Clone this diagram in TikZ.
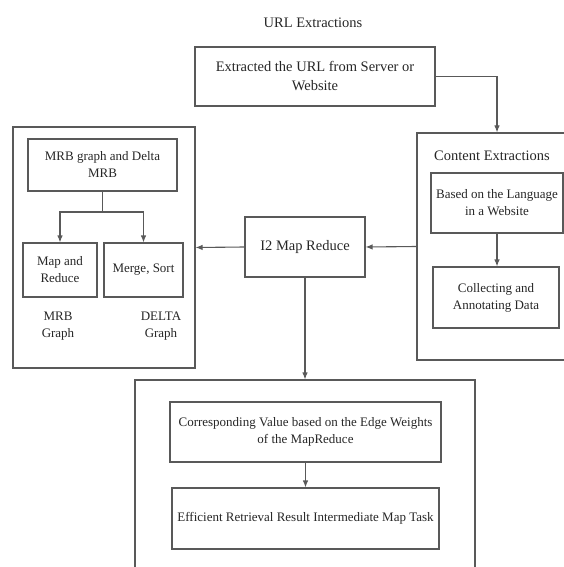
\documentclass[tikz,border=0pt]{standalone}
\usepackage{fontspec}
\setmainfont{Liberation Serif}
\usetikzlibrary{arrows.meta}
\tikzset{
  ln/.style={draw=black!65, line width=1.1pt},
  box/.style={ln, rectangle, align=center, inner sep=0pt, text=black!85},
  big/.style={font=\fontsize{14.5}{19}\selectfont},
  small/.style={font=\fontsize{13}{17}\selectfont},
  lbl/.style={align=center, inner sep=0pt, text=black!85},
  arr/.style={ln, -{Latex[length=7pt,width=5.5pt]}},
}
\begin{document}
\begin{tikzpicture}[x=1pt,y=-1pt]
\useasboundingbox (0,0) rectangle (564,567);
% title
\node[lbl, big] (title) at (313,23) {URL Extractions};
% top box
\node[box, big, minimum width=240pt, minimum height=59pt] (top) at (315,76.5) {Extracted the URL from Server or\\Website};
% left outer group
\node[box, minimum width=182pt, minimum height=241pt] (left) at (104,247.5) {};
\node[box, small, minimum width=149pt, minimum height=52pt] (mrb) at (102.5,165) {MRB graph and Delta\\MRB};
\node[box, small, minimum width=74pt, minimum height=54pt] (mapred) at (60,270) {Map and\\Reduce};
\node[box, small, minimum width=79pt, minimum height=54pt] (merge) at (143.5,270) {Merge, Sort};
\node[lbl, small] (mrbl) at (58,326) {MRB\\Graph};
\node[lbl, small] (deltal) at (161,326) {DELTA\\Graph};
\coordinate (split) at (102.5,212);
% I2
\node[box, big, minimum width=120pt, minimum height=60pt] (i2) at (305,247) {I2 Map Reduce};
% content outer group
\node[box, minimum width=163pt, minimum height=227pt] (content) at (498.5,246.5) {};
\node[lbl, big] (contentl) at (492,156) {Content Extractions};
\node[box, small, minimum width=132pt, minimum height=60pt] (based) at (497,203) {Based on the Language\\in a Website};
\node[box, small, minimum width=126pt, minimum height=61pt] (collect) at (496,297.5) {Collecting and\\Annotating Data};
% bottom outer group
\node[box, minimum width=340pt, minimum height=200pt] (bottom) at (305,480) {};
\node[box, small, minimum width=271pt, minimum height=60pt] (corr) at (305.5,432) {Corresponding Value based on the Edge Weights\\of the MapReduce};
\node[box, small, minimum width=267pt, minimum height=61pt] (eff) at (305.5,518.5) {Efficient Retrieval Result Intermediate Map Task};
% connectors
\draw[arr] (top.east) -| (content.north -| based.north);
\draw[arr] (content.west) -- (i2.east);
\draw[arr] (i2.west) -- (left.east);
\draw[arr] (i2.south) -- (bottom.north);
\draw[ln] (mrb.south) -- (split);
\draw[arr] (split) -| (mapred.north);
\draw[arr] (split) -| (merge.north);
\draw[arr] (based.south) -- (based.south |- collect.north);
\draw[arr] (corr.south) -- (eff.north);
\end{tikzpicture}
\end{document}
